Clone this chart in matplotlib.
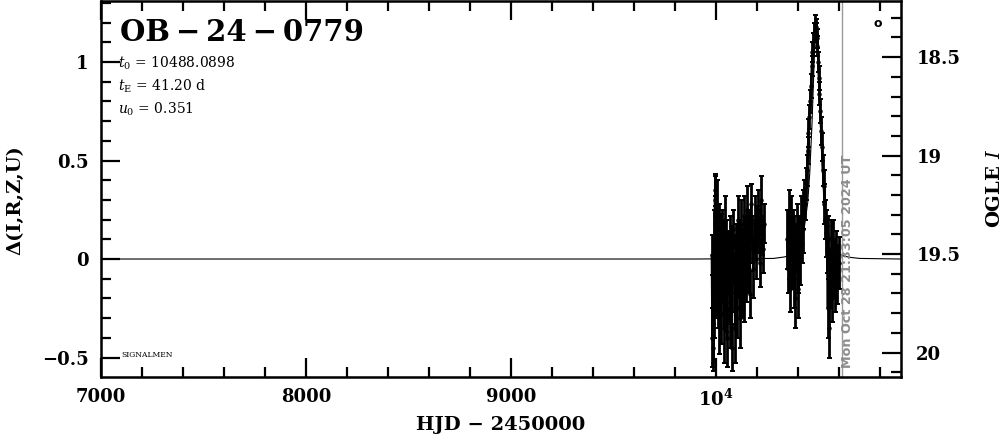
import matplotlib
matplotlib.use('Agg')
import matplotlib.pyplot as plt
from matplotlib.ticker import MultipleLocator, FixedLocator, FixedFormatter

# event parameters (as printed on the chart)
event_name = 'OB\u2009\u2212\u200924\u2009\u2212\u20090779'
param_lines = [r'$t_0$ = 10488.0898', r'$t_{\rm E}$ = 41.20 d', r'$u_0$ = 0.351']
stamp = 'Mon Oct 28 21:33:05 2024 UT'
stamp_hjd = 10612
i_base = 19.525  # baseline OGLE I mag

# 2023 season: HJD-2450000, delta mag, error
hjd23 = [9978, 9981, 9984, 9986, 9988, 9990, 9993, 9995, 9997, 10000,
         10003, 10005, 10008, 10010, 10013, 10016, 10019, 10022, 10025, 10028,
         10031, 10035, 10038, 10042, 10046, 10050, 10054, 10058, 10062, 10066,
         10070, 10074, 10078, 10082, 10086, 10090, 10094, 10098, 10102, 10106,
         10110, 10114, 10118, 10122, 10126, 10130, 10134, 10138, 10142, 10146,
         10150, 10155, 10160, 10165, 10170, 10176, 10182, 10188, 10194, 10200,
         10206, 10212, 10218, 10224, 10230, 10236]
d23 = [0.02, -0.40, -0.35, -0.45, 0.05, -0.25, 0.30, 0.35, 0.22, -0.15,
       0.28, 0.12, -0.20, 0.10, -0.30, 0.18, -0.05, 0.08, -0.28, 0.15,
       -0.10, 0.05, -0.35, 0.20, -0.22, 0.10, -0.40, 0.02, -0.18, 0.12,
       -0.30, 0.05, -0.45, 0.15, -0.12, 0.00, -0.35, 0.08, -0.25, 0.20,
       -0.08, 0.10, -0.30, 0.18, -0.15, 0.05, -0.20, 0.22, 0.02, -0.10,
       0.25, -0.05, 0.15, -0.18, 0.28, 0.10, -0.05, 0.20, 0.00, 0.15,
       0.25, -0.02, 0.30, 0.12, 0.05, 0.18]
e23 = [0.10, 0.15, 0.18, 0.12, 0.20, 0.15, 0.12, 0.08, 0.10, 0.15,
       0.12, 0.10, 0.15, 0.12, 0.18, 0.10, 0.12, 0.15, 0.15, 0.10,
       0.12, 0.15, 0.18, 0.12, 0.15, 0.10, 0.15, 0.12, 0.15, 0.10,
       0.15, 0.12, 0.12, 0.10, 0.15, 0.12, 0.18, 0.10, 0.15, 0.12,
       0.12, 0.10, 0.15, 0.12, 0.15, 0.10, 0.12, 0.10, 0.15, 0.12,
       0.12, 0.12, 0.10, 0.12, 0.10, 0.12, 0.15, 0.12, 0.10, 0.12,
       0.10, 0.12, 0.12, 0.10, 0.12, 0.10]

# 2024 season
hjd24 = [10346, 10350, 10354, 10358, 10362, 10366, 10370, 10374, 10378, 10382,
         10386, 10390, 10394, 10398, 10402, 10406, 10410, 10414, 10418, 10422,
         10426, 10430, 10434, 10438, 10442, 10446, 10450, 10454, 10458, 10462,
         10466, 10470, 10474, 10478, 10482, 10485, 10488, 10491, 10494, 10497,
         10500, 10504, 10508, 10512, 10516, 10520, 10524, 10528, 10532, 10536,
         10540, 10544, 10548, 10552, 10556, 10560, 10565, 10570, 10575, 10580,
         10586, 10592, 10598]
d24 = [0.10, -0.05, 0.25, 0.05, -0.15, 0.20, 0.00, 0.15, -0.10, 0.10,
       -0.20, 0.05, 0.18, -0.05, -0.15, 0.10, 0.02, 0.20, 0.08, 0.25,
       0.15, 0.30, 0.28, 0.38, 0.45, 0.55, 0.64, 0.72, 0.80, 0.88,
       0.98, 1.05, 1.10, 1.15, 1.20, 1.18, 1.15, 1.08, 1.12, 1.00,
       0.92, 0.84, 0.75, 0.65, 0.57, 0.45, 0.37, 0.28, 0.20, 0.13,
       0.05, -0.25, 0.10, -0.35, -0.10, 0.05, -0.20, 0.08, -0.05, -0.15,
       0.02, -0.08, -0.02]
e24 = [0.15, 0.12, 0.10, 0.15, 0.12, 0.12, 0.15, 0.10, 0.15, 0.12,
       0.15, 0.12, 0.10, 0.12, 0.15, 0.12, 0.15, 0.12, 0.10, 0.10,
       0.12, 0.10, 0.08, 0.08, 0.08, 0.07, 0.07, 0.06, 0.06, 0.06,
       0.05, 0.05, 0.05, 0.05, 0.04, 0.04, 0.05, 0.05, 0.05, 0.05,
       0.06, 0.06, 0.06, 0.07, 0.07, 0.08, 0.08, 0.10, 0.10, 0.12,
       0.12, 0.15, 0.12, 0.15, 0.15, 0.15, 0.12, 0.12, 0.15, 0.12,
       0.12, 0.15, 0.13]

# model curve
mod_t = [7000, 9900, 10280, 10330, 10365, 10406, 10426, 10447, 10457, 10468,
         10478, 10484, 10488, 10492, 10498, 10508, 10519, 10529, 10550, 10570,
         10590, 10612, 10650, 10700, 10902]
mod_d = [0.0, 0.0, 0.003, 0.010, 0.018, 0.062, 0.127, 0.287, 0.439, 0.69,
         0.99, 1.15, 1.185, 1.15, 0.99, 0.69, 0.439, 0.287, 0.127, 0.062,
         0.033, 0.018, 0.009, 0.003, 0.0]

x_ticks = [7000, 8000, 9000, 10000]
x_labels = ['7000', '8000', '9000', r'$\mathbf{10^4}$']
y_ticks = [-0.5, 0, 0.5, 1]
y_labels = ['\u22120.5', '0', '0.5', '1']
mag_ticks = [18.5, 19, 19.5, 20]
mag_labels = ['18.5', '19', '19.5', '20']

plt.rcParams['font.family'] = ['DejaVu Serif']
plt.rcParams['mathtext.fontset'] = 'dejavuserif'

fig = plt.figure(figsize=(10.04, 4.34), dpi=100)
ax = fig.add_axes([101 / 1004, 57 / 434, 800 / 1004, 376 / 434])

ax.plot(mod_t, mod_d, color='k', lw=0.8, zorder=2)
for t, d, e in [(hjd23, d23, e23), (hjd24, d24, e24)]:
    ax.errorbar(t, d, yerr=e, fmt='o-', color='k', ms=2.2, lw=1.3,
                elinewidth=2.0, capsize=1.8, capthick=1.4, zorder=3)

ax.axvline(stamp_hjd, color='#9a9a9a', lw=1.0, zorder=1)
ax.text(stamp_hjd + 30, -0.555, stamp, rotation=90, ha='center', va='bottom',
        color='#8c8c8c', fontsize=9.2, fontweight='bold', family='DejaVu Sans')

ax.set_xlim(7000, 10902)
ax.set_ylim(-0.599, 1.31)

ax.xaxis.set_major_locator(FixedLocator(x_ticks))
ax.xaxis.set_major_formatter(FixedFormatter(x_labels))
ax.xaxis.set_minor_locator(MultipleLocator(200))
ax.yaxis.set_major_locator(FixedLocator(y_ticks))
ax.yaxis.set_major_formatter(FixedFormatter(y_labels))
ax.yaxis.set_minor_locator(MultipleLocator(0.1))
ax.tick_params(which='both', direction='in', top=True, right=False, width=1.6,
               labelsize=13)
ax.tick_params(which='major', length=14)
ax.tick_params(which='minor', length=7)
ax.tick_params(axis='x', pad=8)
ax.tick_params(axis='y', pad=9)
for lab in ax.get_xticklabels() + ax.get_yticklabels():
    lab.set_fontweight('bold')
for sp in ax.spines.values():
    sp.set_linewidth(1.8)

ax2 = ax.twinx()
ax2.set_ylim(i_base + 0.599, i_base - 1.31)
ax2.yaxis.set_major_locator(FixedLocator(mag_ticks))
ax2.yaxis.set_major_formatter(FixedFormatter(mag_labels))
ax2.yaxis.set_minor_locator(MultipleLocator(0.1))
ax2.tick_params(which='both', direction='in', width=1.6, labelsize=13, pad=11)
ax2.tick_params(which='major', length=14)
ax2.tick_params(which='minor', length=7)
for lab in ax2.get_yticklabels():
    lab.set_fontweight('bold')

# title and parameters
ax.text(0.024, 0.915, event_name, transform=ax.transAxes, fontsize=21,
        fontweight='bold', va='center', ha='left')
for i, line in enumerate(param_lines):
    ax.text(0.021, 0.835 - i * 0.061, line, transform=ax.transAxes,
            fontsize=10, va='center', ha='left')
ax.text(0.026, 0.058, 'SIGNALMEN', transform=ax.transAxes, fontsize=5.5,
        va='center', ha='left')
ax.text(0.971, 0.941, 'o', transform=ax.transAxes, fontsize=9,
        fontweight='bold', va='center', ha='center', family='DejaVu Sans')

fig.text(501 / 1004, 1 - 425 / 434, 'HJD \u2212 2450000', ha='center',
         va='center', fontsize=14, fontweight='bold')
fig.text(15 / 1004, 1 - 200 / 434, '\u0394(I,R,Z,U)', ha='center', va='center',
         rotation=90, fontsize=14, fontweight='bold')
fig.text(995 / 1004, 1 - 188 / 434, r'OGLE $\mathit{I}$', ha='center',
         va='center', rotation=90, fontsize=14, fontweight='bold')

fig.savefig('out.png', dpi=100)
